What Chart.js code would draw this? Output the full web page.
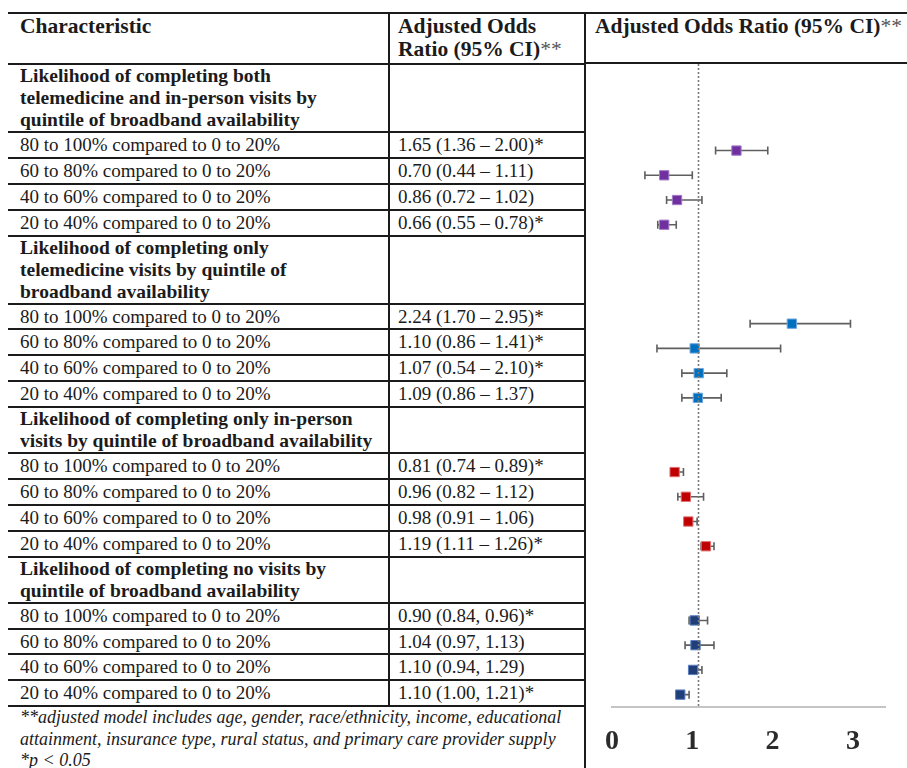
<!DOCTYPE html>
<html>
<head>
<meta charset="utf-8">
<title>Adjusted odds ratios by quintile of broadband availability</title>
<script src="https://cdn.jsdelivr.net/npm/chart.js@4.4.1/dist/chart.umd.min.js"></script>
<style>
  body { margin: 0; background: #fff; }
  #page { position: relative; width: 907px; height: 768px; overflow: hidden;
          font-family: 'Liberation Serif', 'Times New Roman', serif; color: #1b1b1b; }
  #tbl { position: absolute; left: 8px; top: 12px; border-collapse: collapse; table-layout: fixed; }
  #tbl td { padding: 0; white-space: nowrap; overflow: hidden;
            border-top: 2px solid #1b1b1b; border-bottom: 2px solid #1b1b1b; }
  #tbl td.c1 { padding-left: 12px; }
  #tbl td.c2 { padding-left: 8px; border-left: 2px solid #1b1b1b; border-right: 2px solid #1b1b1b; }
  #tbl tr.head td { height: 48px; vertical-align: top; font-weight: bold; font-size: 21.5px; line-height: 23px; padding-top: 1px; }
  #tbl tr.sec td { vertical-align: top; font-weight: bold; font-size: 19.5px; line-height: 22px; }
  #tbl tr.row td { height: 23.9px; font-size: 19px; line-height: 22px; vertical-align: middle; }
  #tbl tr.foot td { height: 64px; vertical-align: top; font-style: italic; font-size: 18px; line-height: 21.5px;
                    border-bottom: none; border-right: 2px solid #1b1b1b; padding-left: 12px; }
  .ast { font-weight: normal; color: #555; }
  #rightHead { position: absolute; left: 585px; top: 12px; width: 312px; height: 48px; padding-left: 10px;
               border-top: 2px solid #1b1b1b; border-bottom: 2px solid #1b1b1b;
               font-weight: bold; font-size: 21.5px; line-height: 24px; white-space: nowrap; }
  #plotWrap { position: absolute; left: 585px; top: 64px; width: 322px; height: 704px; }
  #plotWrap canvas { display: block; }
</style>
</head>
<body>
<div id="page">
  <table id="tbl">
    <colgroup><col style="width:381px"><col style="width:196px"></colgroup>
    <tbody></tbody>
  </table>
  <div id="rightHead">Adjusted Odds Ratio (95% CI)<span class="ast">**</span></div>
  <div id="plotWrap"><canvas id="forest" width="322" height="704"></canvas></div>
</div>
<script>
// table text
const sectionTitles = [
  ['Likelihood of completing both', 'telemedicine and in-person visits by', 'quintile of broadband availability'],
  ['Likelihood of completing only', 'telemedicine visits by quintile of', 'broadband availability'],
  ['Likelihood of completing only in-person', 'visits by quintile of broadband availability'],
  ['Likelihood of completing no visits by', 'quintile of broadband availability']
];
const comparisons = [
  '80 to 100% compared to 0 to 20%',
  '60 to 80% compared to 0 to 20%',
  '40 to 60% compared to 0 to 20%',
  '20 to 40% compared to 0 to 20%'
];
const estimateLabels = [
  ['1.65 (1.36 – 2.00)*', '0.70 (0.44 – 1.11)', '0.86 (0.72 – 1.02)', '0.66 (0.55 – 0.78)*'],
  ['2.24 (1.70 – 2.95)*', '1.10 (0.86 – 1.41)*', '1.07 (0.54 – 2.10)*', '1.09 (0.86 – 1.37)'],
  ['0.81 (0.74 – 0.89)*', '0.96 (0.82 – 1.12)', '0.98 (0.91 – 1.06)', '1.19 (1.11 – 1.26)*'],
  ['0.90 (0.84, 0.96)*', '1.04 (0.97, 1.13)', '1.10 (0.94, 1.29)', '1.10 (1.00, 1.21)*']
];
const footnoteLines = [
  '**adjusted model includes age, gender, race/ethnicity, income, educational',
  'attainment, insurance type, rural status, and primary care provider supply',
  '*p < 0.05'
];

// plotted markers, as drawn in the forest plot
const pointEstimates = [
  [1.55, 0.65, 0.81, 0.65],
  [2.24, 1.03, 1.08, 1.07],
  [0.78, 0.92, 0.95, 1.17],
  [1.03, 1.04, 1.01, 0.85]
];
const lowerCI = [
  [1.29, 0.41, 0.68, 0.57],
  [1.72, 0.56, 0.87, 0.87],
  [0.74, 0.82, 0.91, 1.11],
  [0.96, 0.91, 0.97, 0.80]
];
const upperCI = [
  [1.94, 1.00, 1.12, 0.80],
  [2.97, 2.10, 1.43, 1.36],
  [0.89, 1.14, 1.06, 1.27],
  [1.19, 1.27, 1.12, 0.96]
];
const xTicks = [0, 1, 2, 3];
const nullLine = 1.07;

const fillColors = ['#7030a0', '#0070c0', '#c00000', '#203f78'];
const edgeColors = ['#a47cc8', '#6fa8dc', '#e07070', '#5a7fc0'];

// build the table
const tbody = document.querySelector('#tbl tbody');
function addRow(cls, a, b) {
  const tr = document.createElement('tr');
  tr.className = cls;
  tr.innerHTML = '<td class="c1">' + a + '</td><td class="c2">' + b + '</td>';
  tbody.appendChild(tr);
}
addRow('head', 'Characteristic', 'Adjusted Odds<br>Ratio (95% CI)<span class="ast">**</span>');
sectionTitles.forEach((lines, s) => {
  addRow('sec', lines.join('<br>'), '');
  comparisons.forEach((c, r) => addRow('row', c, estimateLabels[s][r]));
});
const foot = document.createElement('tr');
foot.className = 'foot';
foot.innerHTML = '<td colspan="2">' + footnoteLines.join('<br>') + '</td>';
tbody.appendChild(foot);

// one slot per table line, so markers line up with their rows
let slot = 0;
const datasets = sectionTitles.map((lines, s) => {
  slot += lines.length;
  const data = comparisons.map((c, r) => ({
    x: pointEstimates[s][r], y: slot++, lo: lowerCI[s][r], hi: upperCI[s][r]
  }));
  return {
    data,
    pointStyle: 'rect',
    pointRadius: 6.6,
    pointBorderWidth: 1,
    backgroundColor: fillColors[s],
    borderColor: edgeColors[s]
  };
});
const slotCount = slot;

const whiskers = {
  id: 'whiskers',
  beforeDatasetsDraw(chart) {
    const {ctx, scales: {x, y}} = chart;
    ctx.save();
    ctx.strokeStyle = '#5f5f5f';
    ctx.lineWidth = 1.6;
    chart.data.datasets.forEach(ds => ds.data.forEach(p => {
      const py = y.getPixelForValue(p.y);
      const x0 = x.getPixelForValue(p.lo), x1 = x.getPixelForValue(p.hi);
      ctx.beginPath();
      ctx.moveTo(x0, py); ctx.lineTo(x1, py);
      ctx.moveTo(x0, py - 4); ctx.lineTo(x0, py + 4);
      ctx.moveTo(x1, py - 4); ctx.lineTo(x1, py + 4);
      ctx.stroke();
    }));
    ctx.restore();
  }
};

const nullRef = {
  id: 'nullRef',
  afterDatasetsDraw(chart) {
    const {ctx, chartArea, scales: {x}} = chart;
    const px = Math.round(x.getPixelForValue(nullLine)) + 0.5;
    ctx.save();
    ctx.strokeStyle = '#7a7a7a';
    ctx.lineWidth = 1.6;
    ctx.setLineDash([2, 2]);
    ctx.beginPath();
    ctx.moveTo(px, chartArea.top);
    ctx.lineTo(px, chartArea.bottom);
    ctx.stroke();
    ctx.restore();
  }
};

new Chart(document.getElementById('forest'), {
  type: 'scatter',
  data: { datasets },
  options: {
    responsive: false,
    animation: false,
    layout: { autoPadding: false, padding: { left: 27, right: 22, top: 0, bottom: 0 } },
    plugins: { legend: { display: false }, tooltip: { enabled: false } },
    scales: {
      x: {
        type: 'linear',
        min: 0,
        max: 3.4,
        grid: { display: false, drawTicks: false },
        border: { display: true, color: '#c4c4c4', width: 2 },
        afterBuildTicks: scale => { scale.ticks = xTicks.map(v => ({ value: v })); },
        afterFit: scale => { scale.height = 61; },
        ticks: {
          padding: 18,
          color: '#2b2b2b',
          font: { family: "'Liberation Serif', 'Times New Roman', serif", size: 28, weight: 'bold' }
        }
      },
      y: { type: 'linear', display: false, reverse: true, min: -0.5, max: slotCount - 0.5 }
    }
  },
  plugins: [whiskers, nullRef]
});
</script>
</body>
</html>
